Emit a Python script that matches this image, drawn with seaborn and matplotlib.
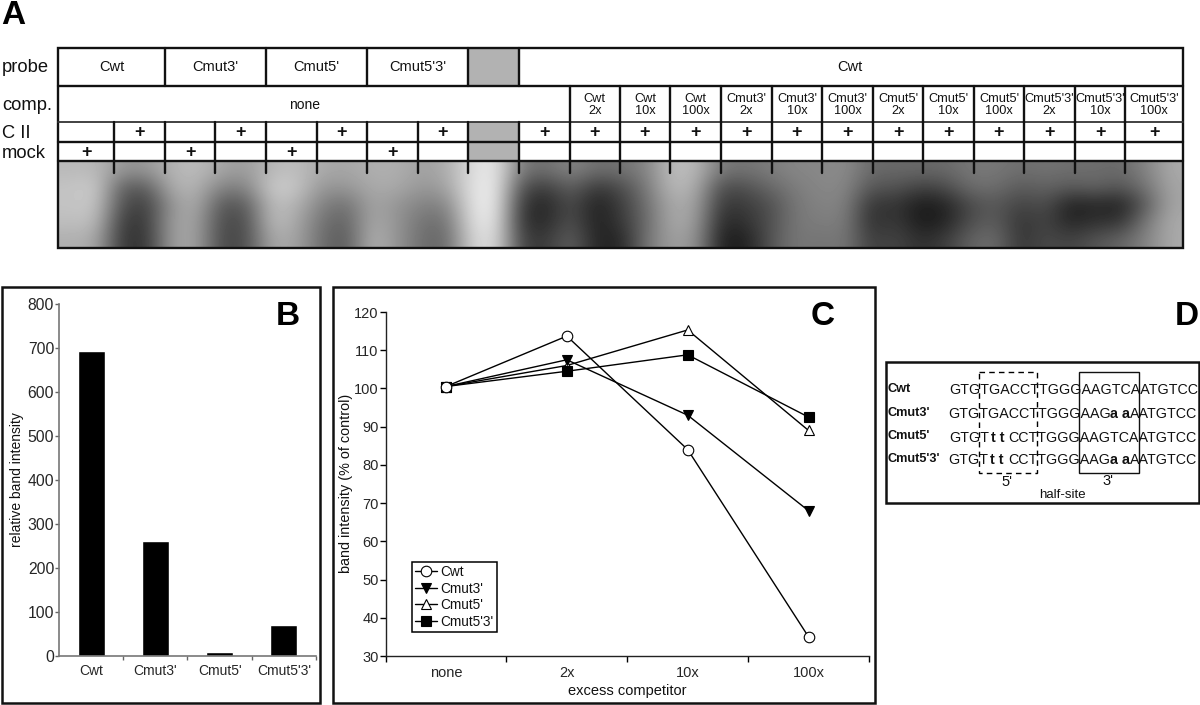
import numpy as np
import pandas as pd
import matplotlib
matplotlib.use('Agg')
import matplotlib.pyplot as plt
from matplotlib.patches import Rectangle
import seaborn as sns

# panel B
probes = ['Cwt', "Cmut3'", "Cmut5'", "Cmut5'3'"]
band_intensity = [693, 261, 8, 71]

# panel C
competitor = ['none', '2x', '10x', '100x']
cwt_vals = [100.5, 113.7, 84, 35]
cmut3_vals = [100.5, 107.5, 93, 68]
cmut5_vals = [100.5, 106, 115.3, 89]
cmut53_vals = [100.5, 104.5, 108.8, 92.5]

# panel A table
comp_labels = ['Cwt\n2x', 'Cwt\n10x', 'Cwt\n100x', "Cmut3'\n2x", "Cmut3'\n10x", "Cmut3'\n100x",
               "Cmut5'\n2x", "Cmut5'\n10x", "Cmut5'\n100x", "Cmut5'3'\n2x", "Cmut5'3'\n10x", "Cmut5'3'\n100x"]
lane_edges = [58, 114, 165, 215, 266, 316.5, 367, 418, 468, 518.5, 569.5, 620, 670, 721, 772,
              822, 873, 923, 974, 1024, 1075, 1125, 1183]

# gel grey levels, one row per height, 45 samples across
gel_top = [185, 185, 150, 150, 180, 190, 165, 155, 185, 190, 170, 165, 175, 175, 160, 170, 220, 235, 120, 110, 135, 110, 115,
           130, 190, 185, 120, 115, 125, 135, 135, 140, 105, 105, 105, 105, 120, 120, 110, 115, 110, 110, 105, 130, 170]
gel_up = [195, 205, 95, 90, 175, 180, 130, 130, 205, 200, 150, 150, 170, 170, 150, 160, 225, 240, 80, 60, 100, 55, 75,
          120, 185, 175, 75, 80, 105, 125, 135, 135, 85, 85, 65, 75, 110, 110, 90, 100, 90, 100, 85, 115, 165]
gel_mid = [195, 200, 80, 60, 150, 175, 85, 90, 190, 180, 130, 110, 165, 150, 130, 130, 225, 240, 55, 35, 80, 30, 60,
           110, 170, 165, 55, 60, 80, 120, 130, 130, 50, 55, 25, 35, 75, 90, 65, 80, 30, 40, 30, 90, 165]
gel_low = [190, 190, 60, 55, 160, 165, 75, 75, 190, 170, 115, 95, 170, 150, 115, 110, 220, 235, 50, 40, 85, 30, 55,
           105, 170, 160, 40, 50, 80, 120, 125, 125, 45, 60, 25, 35, 80, 95, 50, 70, 35, 50, 50, 120, 170]
gel_bottom = [175, 170, 55, 50, 160, 165, 70, 75, 170, 165, 110, 85, 180, 150, 110, 100, 210, 225, 65, 55, 100, 35, 35,
              115, 160, 150, 30, 30, 85, 120, 115, 120, 60, 70, 45, 60, 100, 110, 50, 75, 65, 85, 100, 130, 170]

# panel D
seq_names = ['Cwt', "Cmut3'", "Cmut5'", "Cmut5'3'"]
seq_parts = [
    [('GTGTGACCTTGGGAAGTCAATGTCC', False)],
    [('GTGTGACCTTGGGAAG', False), ('a a', True), ('AATGTCC', False)],
    [('GTGT', False), ('t t', True), ('CCTTGGGAAGTCAATGTCC', False)],
    [('GTGT', False), ('t t', True), ('CCTTGGGAAG', False), ('a a', True), ('AATGTCC', False)],
]
seq_starts = [[949], [948, 1110, 1130], [949, 991, 1008], [948, 990, 1008, 1110, 1130]]

sns.set_theme(style='ticks')
plt.rcParams['font.family'] = ['Liberation Sans', 'DejaVu Sans']
plt.rcParams['axes.edgecolor'] = 'black'
plt.rcParams['text.color'] = '#111111'

W, H = 1200, 705
fig = plt.figure(figsize=(12, 7.05), dpi=100, facecolor='white')
bg = fig.add_axes([0, 0, 1, 1])
bg.axis('off')


def px_axes(x0, x1, ytop, ybot):
    return fig.add_axes([x0 / W, 1 - ybot / H, (x1 - x0) / W, (ybot - ytop) / H], facecolor='none')


# ---- panel A ----
gel = np.array([gel_top, gel_up, gel_mid, gel_low, gel_bottom])
bg.imshow(gel, cmap='gray', vmin=0, vmax=255, aspect='auto', interpolation='bicubic',
          extent=(59, 1183, 248, 161))
bg.set_xlim(0, W)
bg.set_ylim(H, 0)

lw = 1.7
bg.add_patch(Rectangle((468, 48), 50.5, 38, color='#b2b2b2', lw=0))
bg.add_patch(Rectangle((468, 122), 50.5, 39, color='#b2b2b2', lw=0))
for y in [86, 142, 161]:
    bg.plot([58, 1183], [y, y], color='#111111', lw=lw)
bg.plot([58, 1183], [122, 122], color='#333333', lw=1.3)
for x in [165, 266, 367, 468, 518.5]:
    bg.plot([x, x], [48, 86], color='#111111', lw=lw)
for x in lane_edges[10:-1]:
    bg.plot([x, x], [86, 122], color='#111111', lw=lw)
for x in lane_edges[1:-1]:
    bg.plot([x, x], [122, 173], color='#111111', lw=lw)
bg.add_patch(Rectangle((58, 48), 1125, 200, fill=False, ec='#111111', lw=lw))

for txt, y in [('probe', 67), ('comp.', 105), ('C II', 134), ('mock', 153)]:
    bg.text(2, y, txt, fontsize=13.2, va='center', ha='left')
for i, txt in enumerate(probes):
    bg.text([111.5, 215.5, 316.5, 417.5][i], 67, txt, fontsize=10.5, ha='center', va='center')
bg.text(850, 67, 'Cwt', fontsize=10.5, ha='center', va='center')
bg.text(305, 105, 'none', fontsize=10, ha='center', va='center')
for i, txt in enumerate(comp_labels):
    bg.text((lane_edges[10 + i] + lane_edges[11 + i]) / 2, 105, txt, fontsize=9.2, ha='center', va='center',
            linespacing=1.0)
for i in range(22):
    if i == 8:
        continue
    xc = (lane_edges[i] + lane_edges[i + 1]) / 2
    if i < 8 and i % 2 == 0:
        bg.text(xc, 152, '+', fontsize=13, fontweight='bold', ha='center', va='center')
    else:
        bg.text(xc, 132, '+', fontsize=13, fontweight='bold', ha='center', va='center')

# panel letters and frames
for txt, x, y in [('A', 1, 24), ('B', 276, 325), ('C', 811, 325), ('D', 1175, 325)]:
    bg.text(x, y, txt, fontsize=24, fontweight='bold', color='black', ha='left', va='baseline')
for x0, x1, y0, y1 in [(1.5, 320, 287, 703), (333, 875, 287, 703), (886, 1198.5, 362, 503)]:
    bg.add_patch(Rectangle((x0, y0), x1 - x0, y1 - y0, fill=False, ec='#111111', lw=1.8))

# ---- panel B ----
bar_df = pd.DataFrame({'probe': probes, 'intensity': band_intensity})
ax_b = px_axes(59, 316, 304, 656)
sns.barplot(data=bar_df, x='probe', y='intensity', color='black', saturation=1, width=0.42, ax=ax_b)
ax_b.set_xlim(-0.5, 3.5)
ax_b.set_ylim(0, 800)
ax_b.set_yticks(range(0, 801, 100))
ax_b.set_xticks(range(4))
ax_b.set_xticklabels(probes, fontsize=10)
ax_b.set_xticks([0.5, 1.5, 2.5, 3.5], minor=True)
ax_b.tick_params(axis='x', which='major', length=0, pad=6)
ax_b.tick_params(axis='x', which='minor', length=3, width=1, color='#666666')
ax_b.tick_params(axis='y', length=3, width=1, color='#666666', labelsize=11.3, pad=0.5)
ax_b.set_xlabel('')
ax_b.set_ylabel('')
for side in ['top', 'right']:
    ax_b.spines[side].set_visible(False)
for side in ['left', 'bottom']:
    ax_b.spines[side].set_color('#777777')
    ax_b.spines[side].set_linewidth(1.2)
bg.text(17, 480, 'relative band intensity', rotation=90, fontsize=10, ha='center', va='center')

# ---- panel C ----
ax_c = px_axes(385.5, 869, 312, 656)
styles = [(cwt_vals, 'Cwt', 'o', 'white', 6, 7.6), (cmut3_vals, "Cmut3'", 'v', 'black', 4, 7.6),
          (cmut5_vals, "Cmut5'", '^', 'white', 3, 7.6), (cmut53_vals, "Cmut5'3'", 's', 'black', 5, 6.6)]
for vals, name, mk, face, z, ms in styles:
    sns.lineplot(x=competitor, y=vals, sort=False, errorbar=None, color='black', lw=1, marker=mk, ms=ms,
                 markerfacecolor=face, markeredgecolor='black', markeredgewidth=0.8, label=name, zorder=z,
                 clip_on=False, ax=ax_c)
ax_c.set_xlim(-0.5, 3.5)
ax_c.set_ylim(30, 120)
ax_c.set_yticks(range(30, 121, 10))
ax_c.set_xticks([0, 1, 2, 3])
ax_c.set_xticks([-0.5, 0.5, 1.5, 2.5, 3.5], minor=True)
ax_c.tick_params(axis='x', which='major', length=0, pad=7, labelsize=10.5)
ax_c.tick_params(axis='x', which='minor', length=4, width=1, color='black')
ax_c.tick_params(axis='y', length=4, width=1, color='black', labelsize=10.5, pad=1)
for side in ['top', 'right']:
    ax_c.spines[side].set_visible(False)
for side in ['left', 'bottom']:
    ax_c.spines[side].set_linewidth(1)
    ax_c.spines[side].set_color('#222222')
bg.text(346, 483, 'band intensity (% of control)', rotation=90, fontsize=10.4, ha='center', va='center')
bg.text(627, 691, 'excess competitor', fontsize=10.5, ha='center', va='center')
leg = ax_c.legend(loc='lower left', bbox_to_anchor=(26.5 / 483.5, 24 / 344), borderaxespad=0, fontsize=9.8,
                  frameon=True, fancybox=False, framealpha=1, edgecolor='black', handlelength=1.6,
                  handletextpad=0.25, labelspacing=0.18, borderpad=0.25)
leg.get_frame().set_linewidth(1.1)

# ---- panel D ----
bg.add_patch(Rectangle((979, 372), 58, 101, fill=False, ec='black', lw=1, ls=(0, (4, 3))))
bg.add_patch(Rectangle((1079, 372), 60, 101, fill=False, ec='#111111', lw=1))
for row_y, name, parts, starts in zip([389, 412.5, 436, 459], seq_names, seq_parts, seq_starts):
    bg.text(888, row_y, name, fontsize=9.2, fontweight='bold', ha='left', va='center')
    for (seg, is_bold), x in zip(parts, starts):
        bg.text(x, row_y, seg, fontsize=10.3, fontweight='bold' if is_bold else 'normal',
                ha='left', va='center_baseline')
bg.text(1007, 482, "5'", fontsize=10.5, ha='center', va='center')
bg.text(1108, 481, "3'", fontsize=10.5, ha='center', va='center')
bg.text(1062, 495, 'half-site', fontsize=9.5, ha='center', va='center')

fig.savefig('out.png', dpi=100)
